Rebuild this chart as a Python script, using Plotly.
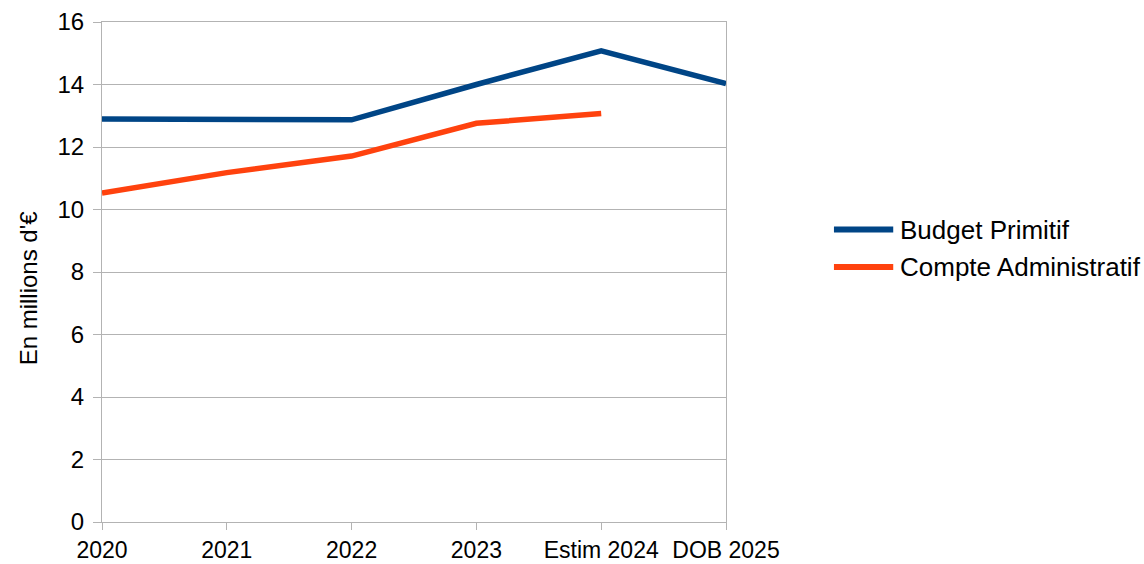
import plotly.graph_objects as go

# Categories and series (millions d'€)
categories = ["2020", "2021", "2022", "2023", "Estim 2024", "DOB 2025"]
budget_primitif = [12.9, 12.87, 12.87, 14.0, 15.08, 14.03]
compte_administratif = [10.53, 11.18, 11.71, 12.76, 13.07, None]

series_names = ["Budget Primitif", "Compte Administratif"]
series_colors = ["#004586", "#ff420e"]

y_ticks = [0, 2, 4, 6, 8, 10, 12, 14, 16]

FONT = "Liberation Sans, Arial, sans-serif"
TEXT_SIZE = 24

fig = go.Figure()
for name, values, color in zip(series_names, [budget_primitif, compte_administratif], series_colors):
    fig.add_trace(go.Scatter(
        x=categories, y=values, mode="lines", name=name,
        line=dict(color=color, width=5.5), connectgaps=False, showlegend=False,
    ))

# Legend drawn to the right of the plot area: long line key + label
legend_rows_y = [0.585, 0.51]
for name, color, ly in zip(series_names, series_colors, legend_rows_y):
    fig.add_shape(type="line", xref="paper", yref="paper",
                  x0=1.173, x1=1.268, y0=ly, y1=ly,
                  line=dict(color=color, width=6))
    fig.add_annotation(xref="paper", yref="paper", x=1.276, y=ly,
                       xanchor="left", yanchor="middle", showarrow=False,
                       text=name, font=dict(family=FONT, size=26, color="black"))

fig.update_layout(
    width=1144, height=564,
    margin=dict(l=102, r=418, t=22, b=42),
    paper_bgcolor="white", plot_bgcolor="white",
    font=dict(family=FONT, size=TEXT_SIZE, color="black"),
    showlegend=False,
    xaxis=dict(
        type="category", range=[0, 5], automargin=False,
        showgrid=False, showline=True, linecolor="#b3b3b3", linewidth=1,
        mirror=True,
        ticks="outside", ticklen=7, tickcolor="#b3b3b3",
        tickfont=dict(family=FONT, size=23, color="black"),
        ticklabelstandoff=0,
        zeroline=False,
    ),
    yaxis=dict(
        range=[0, 16], tickvals=y_ticks, automargin=False,
        showgrid=True, gridcolor="#b3b3b3", gridwidth=1,
        showline=True, linecolor="#b3b3b3", linewidth=1, mirror=True,
        ticks="outside", ticklen=8, tickcolor="#b3b3b3",
        tickfont=dict(family=FONT, size=TEXT_SIZE, color="black"),
        ticklabelstandoff=4,
        zeroline=False,
    ),
    annotations=list(fig.layout.annotations) + [
        dict(xref="paper", yref="paper", x=-0.118, y=0.468,
             xanchor="center", yanchor="middle", showarrow=False, textangle=-90,
             text="En millions d'€", font=dict(family=FONT, size=24, color="black")),
    ],
)

fig.write_html("out.html")
